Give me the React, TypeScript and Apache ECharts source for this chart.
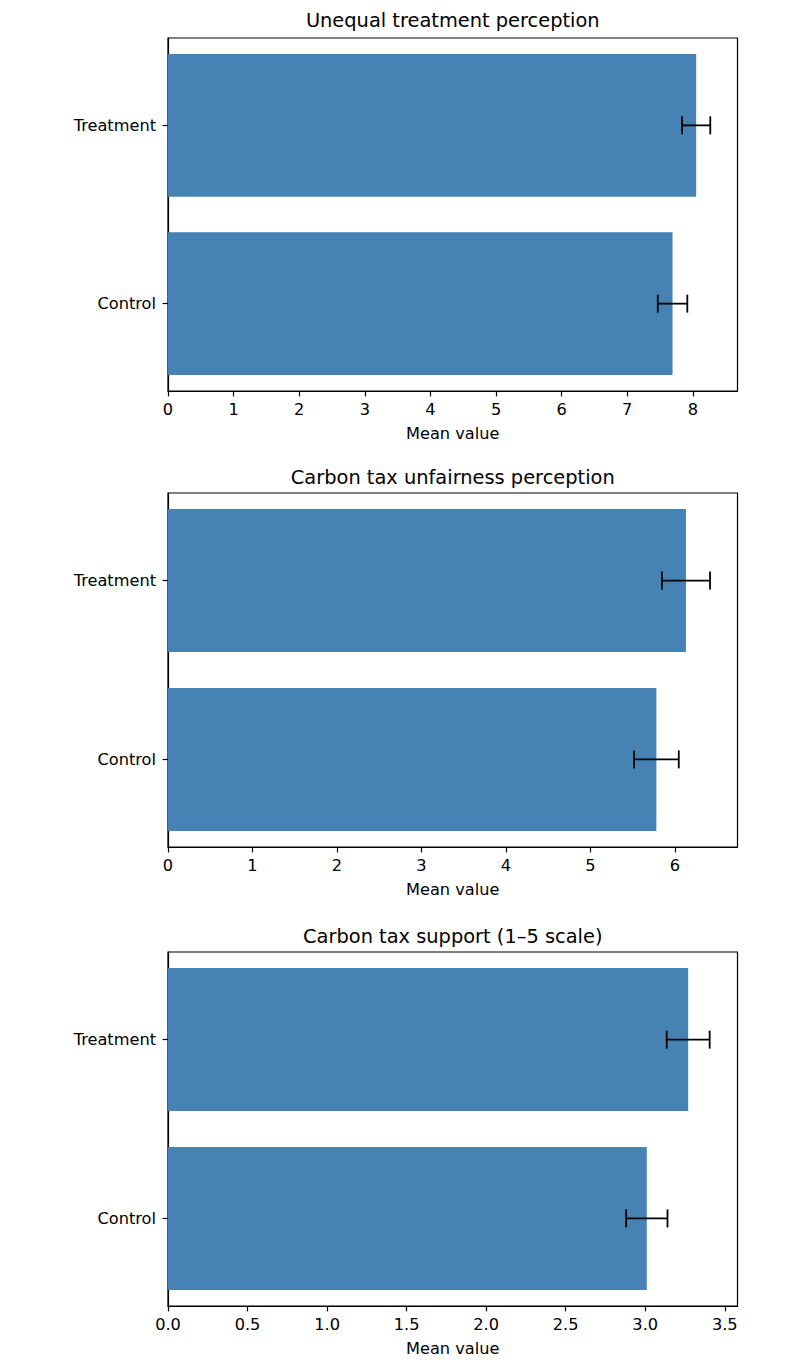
import React, { useEffect, useRef } from "react";
import * as echarts from "echarts";

// Groups shown on each panel (bottom to top)
const groups = ["Control", "Treatment"];

// Panel titles
const titles = [
  "Unequal treatment perception",
  "Carbon tax unfairness perception",
  "Carbon tax support (1–5 scale)",
];

// Mean values per panel, ordered as in `groups`
const unequalMeans = [7.69, 8.05];
const unfairMeans = [5.78, 6.13];
const supportMeans = [3.01, 3.27];

// Error bar half-widths per panel
const unequalErrs = [0.225, 0.215];
const unfairErrs = [0.265, 0.285];
const supportErrs = [0.13, 0.135];

// X-axis upper limits and tick values
const axisMax = [8.68, 6.74, 3.58];
const unequalTicks = [0, 1, 2, 3, 4, 5, 6, 7, 8];
const unfairTicks = [0, 1, 2, 3, 4, 5, 6];
const supportTicks = [0, 0.5, 1.0, 1.5, 2.0, 2.5, 3.0, 3.5];

const xLabel = "Mean value";

const FONT = "DejaVu Sans";
const BAR_COLOR = "#4682b4";
const TICK_SIZE = 16.2;
const TITLE_SIZE = 19.4;
// Bar thickness in category units; positions run from -0.49 to 1.49
const BAR_THICKNESS = 0.8;
const Y_MIN = -0.49;
const Y_MAX = 1.49;

export default function App() {
  const ref = useRef<HTMLDivElement>(null);

  useEffect(() => {
    if (!ref.current) return;
    const chart = echarts.init(ref.current, undefined, { renderer: "svg" });

    const panels = [
      { means: unequalMeans, errs: unequalErrs, ticks: unequalTicks, decimals: 0 },
      { means: unfairMeans, errs: unfairErrs, ticks: unfairTicks, decimals: 0 },
      { means: supportMeans, errs: supportErrs, ticks: supportTicks, decimals: 1 },
    ];

    const gridLeft = 168;
    const gridWidth = 569.5;
    const gridTops = [38, 493, 952];
    const gridHeights = [353, 354, 354];
    const titleYs = [20, 477, 936];
    const groupIdx = groups.map((_, k) => k);

    const grids = panels.map((_, i) => ({
      left: gridLeft,
      top: gridTops[i],
      width: gridWidth,
      height: gridHeights[i],
      show: true,
      borderColor: "#000",
      borderWidth: 1.2,
      backgroundColor: "transparent",
      containLabel: false,
    }));

    const xAxes = panels.map((p, i) => ({
      type: "value",
      gridIndex: i,
      min: 0,
      max: axisMax[i],
      name: xLabel,
      nameLocation: "middle",
      nameGap: 34,
      nameTextStyle: { fontFamily: FONT, fontSize: TICK_SIZE, color: "#000" },
      axisLine: { show: true, onZero: false, lineStyle: { color: "#000", width: 1.2 } },
      axisTick: {
        show: true,
        length: 5.4,
        lineStyle: { color: "#000", width: 1.2 },
        customValues: p.ticks,
      },
      axisLabel: {
        show: true,
        margin: 10.5,
        fontFamily: FONT,
        fontSize: TICK_SIZE,
        color: "#000",
        customValues: p.ticks,
        formatter: (v: number) => v.toFixed(p.decimals),
      },
      splitLine: { show: false },
    }));

    const yAxes = panels.map((_, i) => ({
      type: "value",
      gridIndex: i,
      min: Y_MIN,
      max: Y_MAX,
      axisLine: { show: true, onZero: false, lineStyle: { color: "#000", width: 1.2 } },
      axisTick: {
        show: true,
        length: 5.4,
        lineStyle: { color: "#000", width: 1.2 },
        customValues: groupIdx,
      },
      axisLabel: {
        margin: 12,
        fontFamily: FONT,
        fontSize: TICK_SIZE,
        color: "#000",
        customValues: groupIdx,
        formatter: (v: number) => groups[Math.round(v)] ?? "",
      },
      splitLine: { show: false },
    }));

    const barSeries = panels.map((p, i) => ({
      type: "custom",
      xAxisIndex: i,
      yAxisIndex: i,
      z: 2,
      encode: { x: 0, y: 1 },
      data: p.means.map((m, k) => [m, k]),
      renderItem: (_params: any, api: any) => {
        const mean = api.value(0);
        const idx = api.value(1);
        const a = api.coord([0, idx + BAR_THICKNESS / 2]);
        const b = api.coord([mean, idx - BAR_THICKNESS / 2]);
        return {
          type: "rect",
          shape: { x: a[0], y: a[1], width: b[0] - a[0], height: b[1] - a[1] },
          style: { fill: BAR_COLOR },
        };
      },
    }));

    const errorSeries = panels.map((p, i) => ({
      type: "custom",
      xAxisIndex: i,
      yAxisIndex: i,
      z: 5,
      encode: { x: 0, y: 1 },
      data: p.means.map((m, k) => [m, k, p.errs[k]]),
      renderItem: (_params: any, api: any) => {
        const mean = api.value(0);
        const idx = api.value(1);
        const err = api.value(2);
        const lo = api.coord([mean - err, idx]);
        const hi = api.coord([mean + err, idx]);
        const cap = 9;
        const style = { stroke: "#000", lineWidth: 1.8, fill: "none" };
        return {
          type: "group",
          children: [
            { type: "line", shape: { x1: lo[0], y1: lo[1], x2: hi[0], y2: hi[1] }, style },
            { type: "line", shape: { x1: lo[0], y1: lo[1] - cap, x2: lo[0], y2: lo[1] + cap }, style },
            { type: "line", shape: { x1: hi[0], y1: hi[1] - cap, x2: hi[0], y2: hi[1] + cap }, style },
          ],
        };
      },
    }));

    const titleGraphics = titles.map((t, i) => ({
      type: "text",
      x: gridLeft + gridWidth / 2,
      y: titleYs[i],
      style: {
        text: t,
        fill: "#000",
        font: `${TITLE_SIZE}px "${FONT}"`,
        align: "center",
        verticalAlign: "middle",
      },
    }));

    chart.setOption({
      animation: false,
      backgroundColor: "#fff",
      textStyle: { fontFamily: FONT },
      grid: grids,
      xAxis: xAxes,
      yAxis: yAxes,
      series: [...barSeries, ...errorSeries],
      graphic: titleGraphics,
    });

    return () => chart.dispose();
  }, []);

  return (
    <div
      ref={ref}
      style={{ position: "absolute", left: 0, top: 0, width: 810, height: 1365, background: "#fff" }}
    />
  );
}
